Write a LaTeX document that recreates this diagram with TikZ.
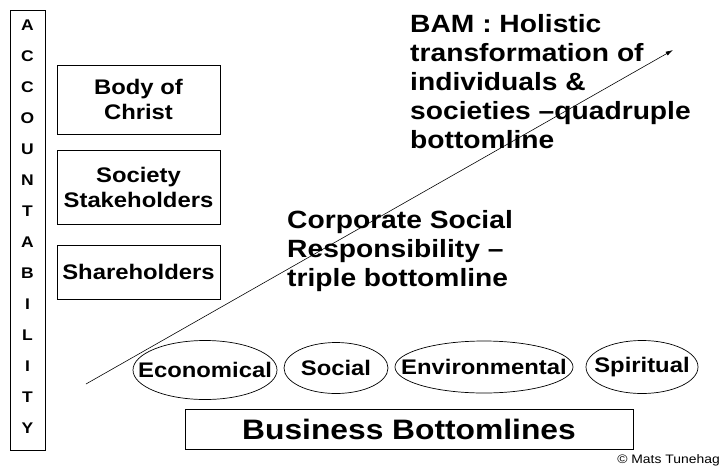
\documentclass[tikz,border=0pt]{standalone}
\usepackage{fontspec}
\setmainfont{Liberation Sans}[FakeStretch=1.13]
\usetikzlibrary{shapes.geometric,arrows.meta}

\begin{document}
\begin{tikzpicture}[x=0.03cm, y=-0.03cm,
letternode/.style={inner sep=0pt, font=\bfseries\fontsize{13.2}{15}\selectfont},
stakebox/.style={rectangle, draw, line width=0.6pt, minimum width=4.89cm, align=center, font=\bfseries\fontsize{18}{21.3}\selectfont},
lineellipse/.style={ellipse, draw, line width=0.6pt, inner sep=0pt, label={[ellipsetext]center:#1}},
ellipsetext/.style={inner sep=0pt, font=\bfseries\fontsize{18}{21}\selectfont},
headtext/.style={anchor=north west, align=left, inner sep=0pt, font=\bfseries\fontsize{21.3}{24.7}\selectfont},
]
\useasboundingbox (0,0) rectangle (722,468);

%Accountability column
\node[draw, line width=0.6pt, minimum width=1.05cm, minimum height=13.2cm] (acc) at (27.5,230) {};
\node[letternode] (l1)  at (27.5,25)  {A};
\node[letternode] (l2)  at (27.5,56)  {C};
\node[letternode] (l3)  at (27.5,87)  {C};
\node[letternode] (l4)  at (27.5,118) {O};
\node[letternode] (l5)  at (27.5,149) {U};
\node[letternode] (l6)  at (27.5,180) {N};
\node[letternode] (l7)  at (27.5,211) {T};
\node[letternode] (l8)  at (27.5,242) {A};
\node[letternode] (l9)  at (27.5,273) {B};
\node[letternode] (l10) at (27.5,304) {I};
\node[letternode] (l11) at (27.5,335) {L};
\node[letternode] (l12) at (27.5,366) {I};
\node[letternode] (l13) at (27.5,397) {T};
\node[letternode] (l14) at (27.5,428) {Y};

%Stakeholder boxes
\node[stakebox, minimum height=2.07cm] (christ)  at (138.5,99.5) {Body of\\Christ};
\node[stakebox, minimum height=2.22cm] (society) at (138.5,187)  {Society\\Stakeholders};
\node[stakebox, minimum height=1.62cm] (share)   at (138.5,272)  {Shareholders};

%Bottomlines
\node[lineellipse=Economical,    minimum width=4.32cm, minimum height=1.77cm] (econ)  at (205,370) {};
\node[lineellipse=Social,        minimum width=3.12cm, minimum height=1.53cm] (soc)   at (336,368) {};
\node[lineellipse=Environmental, minimum width=5.34cm, minimum height=1.56cm] (env)   at (484,367) {};
\node[lineellipse=Spiritual,     minimum width=3.36cm, minimum height=1.59cm] (spir)  at (642,367) {};
\node[draw, line width=0.6pt, minimum width=13.44cm, minimum height=1.2cm, font=\bfseries\fontsize{24}{28}\selectfont] (bbl) at (409,429) {Business Bottomlines};

%Headings
\node[headtext] (csr) at (287,210) {Corporate Social\\Responsibility --\\triple bottomline};
\node[headtext] (bam) at (410,14) {BAM : Holistic\\transformation of\\individuals \&\\societies --quadruple\\bottomline};

%Arrow
\coordinate (start) at (86,384);
\coordinate (tip)   at (673,50);
\draw[-{Latex[length=2.2mm, width=1.3mm]}, line width=0.5pt] (start) -- (tip);

\node[anchor=east, inner sep=0pt, font=\fontsize{10.5}{12}\selectfont] (copy) at (720,460) {© Mats Tunehag};
\end{tikzpicture}
\end{document}
